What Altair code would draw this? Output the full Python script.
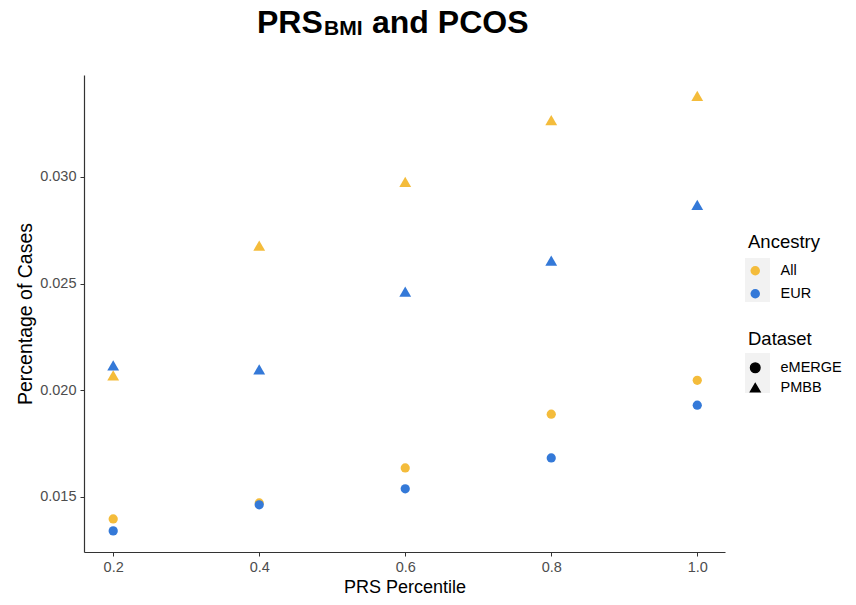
import altair as alt
import pandas as pd

# PRS percentile bins
percentiles = [0.2, 0.4, 0.6, 0.8, 1.0]

# Percentage of cases per dataset / ancestry
pmbb_all = [0.0207, 0.02678, 0.02977, 0.03267, 0.0338]
pmbb_eur = [0.02117, 0.02098, 0.02463, 0.02608, 0.02869]
emerge_all = [0.01397, 0.01472, 0.01636, 0.01888, 0.02047]
emerge_eur = [0.01341, 0.01463, 0.01538, 0.01683, 0.0193]

series = [
    ("PMBB", "All", pmbb_all),
    ("PMBB", "EUR", pmbb_eur),
    ("eMERGE", "All", emerge_all),
    ("eMERGE", "EUR", emerge_eur),
]
rows = []
for dataset, ancestry, vals in series:
    for p, v in zip(percentiles, vals):
        rows.append({"percentile": p, "cases": v, "Dataset": dataset, "Ancestry": ancestry})
df = pd.DataFrame(rows)

FONT = "Liberation Sans"
W, H = 641, 477

base = alt.Chart(df).encode(
    x=alt.X("percentile:Q",
            scale=alt.Scale(domain=[0.160, 1.038], nice=False, zero=False),
            axis=alt.Axis(values=percentiles, format=".1f", title="PRS Percentile",
                          titleFontSize=18, titlePadding=5)),
    y=alt.Y("cases:Q",
            scale=alt.Scale(domain=[0.01242, 0.03478], nice=False, zero=False),
            axis=alt.Axis(values=[0.015, 0.020, 0.025, 0.030], format=".3f",
                          title="Percentage of Cases", titleFontSize=19.5, titlePadding=4)),
    color=alt.Color("Ancestry:N",
                    scale=alt.Scale(domain=["All", "EUR"], range=["#F4BC3B", "#3479D8"]),
                    legend=alt.Legend(orient="none", legendX=664, legendY=158,
                                      symbolType="circle", symbolSize=90,
                                      symbolOpacity=1, rowPadding=8, titlePadding=12)),
    shape=alt.Shape("Dataset:N",
                    scale=alt.Scale(domain=["eMERGE", "PMBB"], range=["circle", "triangle-up"]),
                    legend=alt.Legend(orient="none", legendX=664, legendY=255,
                                      symbolFillColor="black", symbolStrokeColor="black",
                                      symbolSize=90, rowPadding=4, titlePadding=12)),
)

# Circles (eMERGE) and triangles (PMBB) drawn at their own sizes
circles = base.transform_filter(alt.datum.Dataset == "eMERGE").mark_point(
    filled=True, opacity=1, size=85)
triangles = base.transform_filter(alt.datum.Dataset == "PMBB").mark_point(
    filled=True, opacity=1, size=140)

# Grey key panels behind the legend symbols
key_bg = pd.DataFrame({"x": [661, 661], "x2": [686, 686], "y": [183, 278], "y2": [227, 318]})
keys = alt.Chart(key_bg).mark_rect(color="#F2F2F2").encode(
    x=alt.X("x:Q", scale=None), x2="x2:Q",
    y=alt.Y("y:Q", scale=None), y2="y2:Q",
)

# Title with subscript
title_parts = pd.DataFrame({
    "text": ["PRS", "BMI", "and PCOS"],
    "x": [173, 240, 288],
    "y": [-42, -40, -42],
    "size": [32, 21, 32],
})
title_big = alt.Chart(title_parts[title_parts["size"] == 32]).mark_text(
    font=FONT, fontWeight="bold", fontSize=32, align="left", baseline="alphabetic", color="black"
).encode(x=alt.X("x:Q", scale=None), y=alt.Y("y:Q", scale=None), text="text:N")
title_small = alt.Chart(title_parts[title_parts["size"] == 21]).mark_text(
    font=FONT, fontWeight="bold", fontSize=21, align="left", baseline="alphabetic", color="black"
).encode(x=alt.X("x:Q", scale=None), y=alt.Y("y:Q", scale=None), text="text:N")

chart = alt.layer(keys, circles, triangles, title_big, title_small).properties(
    width=W, height=H,
    autosize=alt.AutoSizeParams(type="none"),
    padding={"left": 84, "top": 75, "right": 131, "bottom": 53},
    background="white",
).configure_view(stroke=None).configure_axis(
    grid=False, domainColor="#333333", domainWidth=1.2, tickColor="#333333",
    tickSize=4, labelColor="#4D4D4D", labelFontSize=14.5, labelFont=FONT,
    titleFont=FONT, titleFontWeight="normal", titleColor="black",
    labelPadding=4,
).configure_legend(
    titleFont=FONT, titleFontSize=18.5, titleFontWeight="normal", titleColor="black",
    labelFont=FONT, labelFontSize=14.5, labelColor="black", labelOffset=18,
)

chart.save("out.html", embed_options={"renderer": "svg", "actions": False})
